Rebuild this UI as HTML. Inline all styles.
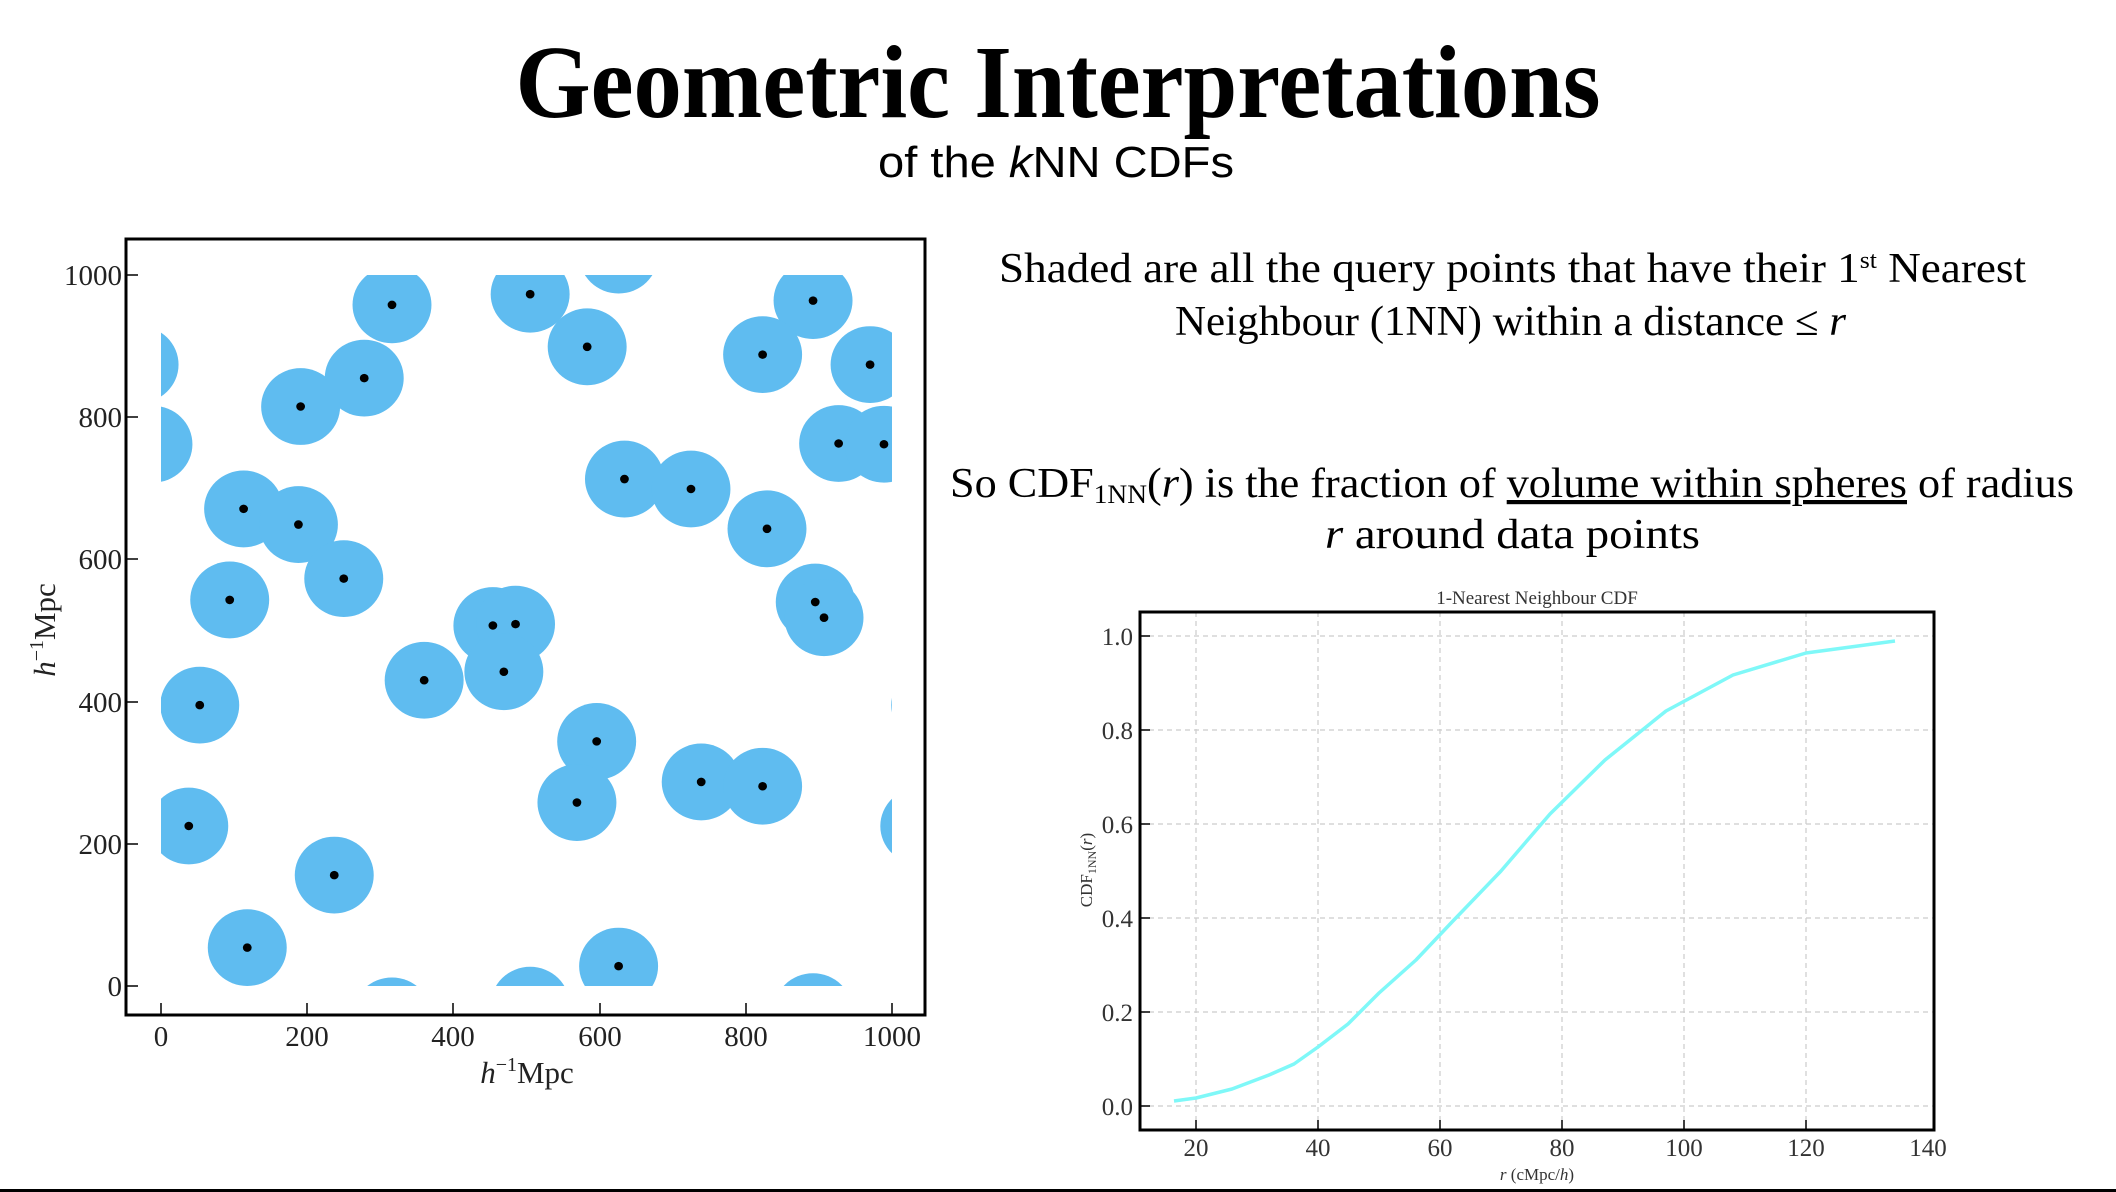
<!DOCTYPE html>
<html><head><meta charset="utf-8"><style>html,body{margin:0;padding:0;background:#fff;width:2116px;height:1192px;overflow:hidden}svg{display:block}</style></head>
<body>
<svg width="2116" height="1192" viewBox="0 0 2116 1192" xmlns="http://www.w3.org/2000/svg">
<rect width="2116" height="1192" fill="#fff"/>
<text x="1058" y="117" text-anchor="middle" font-family="Liberation Serif, serif" font-weight="bold" font-size="104" textLength="1085" lengthAdjust="spacingAndGlyphs">Geometric Interpretations</text>
<text x="1056" y="177" text-anchor="middle" font-family="Liberation Sans, sans-serif" font-size="44" textLength="356" lengthAdjust="spacingAndGlyphs">of the <tspan font-style="italic">k</tspan>NN CDFs</text>

<g font-family="Liberation Serif, serif" font-size="42" fill="#000">
<text x="999" y="282" textLength="1027" lengthAdjust="spacingAndGlyphs">Shaded are all the query points that have their 1<tspan font-size="24" dy="-14">st</tspan><tspan dy="14"> Nearest</tspan></text>
<text x="1175" y="335" textLength="671" lengthAdjust="spacingAndGlyphs">Neighbour (1NN) within a distance ≤ <tspan font-style="italic">r</tspan></text>
<text x="950" y="497" textLength="1124" lengthAdjust="spacingAndGlyphs">So CDF<tspan font-size="26" dy="6">1NN</tspan><tspan dy="-6">(</tspan><tspan font-style="italic">r</tspan>) is the fraction of <tspan text-decoration="underline">volume within spheres</tspan> of radius</text>
<text x="1325" y="548" textLength="375" lengthAdjust="spacingAndGlyphs"><tspan font-style="italic">r</tspan> around data points</text>
</g>

<defs>
<clipPath id="box"><rect x="0" y="0" width="1000" height="1000"/></clipPath>
<g id="circ" fill="#5fbcf0">
<circle cx="316" cy="958" r="54"/><circle cx="505" cy="973" r="54"/><circle cx="583" cy="899" r="54"/>
<circle cx="892" cy="964" r="54"/><circle cx="823" cy="888" r="54"/><circle cx="970" cy="874" r="54"/>
<circle cx="278" cy="855" r="54"/><circle cx="191" cy="815" r="54"/><circle cx="927" cy="763" r="54"/>
<circle cx="989" cy="762" r="54"/><circle cx="634" cy="713" r="54"/><circle cx="725" cy="699" r="54"/>
<circle cx="829" cy="643" r="54"/><circle cx="113" cy="671" r="54"/><circle cx="188" cy="649" r="54"/>
<circle cx="250" cy="573" r="54"/><circle cx="94" cy="543" r="54"/><circle cx="895" cy="540" r="54"/>
<circle cx="907" cy="518" r="54"/><circle cx="454" cy="507" r="54"/><circle cx="485" cy="509" r="54"/>
<circle cx="469" cy="442" r="54"/><circle cx="360" cy="430" r="54"/><circle cx="53" cy="395" r="54"/>
<circle cx="596" cy="344" r="54"/><circle cx="569" cy="258" r="54"/><circle cx="739" cy="287" r="54"/>
<circle cx="823" cy="281" r="54"/><circle cx="38" cy="225" r="54"/><circle cx="237" cy="156" r="54"/>
<circle cx="118" cy="54" r="54"/><circle cx="626" cy="28" r="54"/>
</g>
</defs>
<g transform="translate(161,986) scale(0.731,-0.711)">
<g clip-path="url(#box)">
<use href="#circ"/>
<use href="#circ" transform="translate(1000,0)"/><use href="#circ" transform="translate(-1000,0)"/>
<use href="#circ" transform="translate(0,1000)"/><use href="#circ" transform="translate(0,-1000)"/>
<use href="#circ" transform="translate(1000,1000)"/><use href="#circ" transform="translate(-1000,1000)"/>
<use href="#circ" transform="translate(1000,-1000)"/><use href="#circ" transform="translate(-1000,-1000)"/>
</g>
<g fill="#000">
<circle cx="316" cy="958" r="6"/><circle cx="505" cy="973" r="6"/><circle cx="583" cy="899" r="6"/>
<circle cx="892" cy="964" r="6"/><circle cx="823" cy="888" r="6"/><circle cx="970" cy="874" r="6"/>
<circle cx="278" cy="855" r="6"/><circle cx="191" cy="815" r="6"/><circle cx="927" cy="763" r="6"/>
<circle cx="989" cy="762" r="6"/><circle cx="634" cy="713" r="6"/><circle cx="725" cy="699" r="6"/>
<circle cx="829" cy="643" r="6"/><circle cx="113" cy="671" r="6"/><circle cx="188" cy="649" r="6"/>
<circle cx="250" cy="573" r="6"/><circle cx="94" cy="543" r="6"/><circle cx="895" cy="540" r="6"/>
<circle cx="907" cy="518" r="6"/><circle cx="454" cy="507" r="6"/><circle cx="485" cy="509" r="6"/>
<circle cx="469" cy="442" r="6"/><circle cx="360" cy="430" r="6"/><circle cx="53" cy="395" r="6"/>
<circle cx="596" cy="344" r="6"/><circle cx="569" cy="258" r="6"/><circle cx="739" cy="287" r="6"/>
<circle cx="823" cy="281" r="6"/><circle cx="38" cy="225" r="6"/><circle cx="237" cy="156" r="6"/>
<circle cx="118" cy="54" r="6"/><circle cx="626" cy="28" r="6"/>
</g>
</g>
<rect x="126" y="239" width="799" height="776" fill="none" stroke="#000" stroke-width="3"/>
<g stroke="#000" stroke-width="1.5">
<line x1="161" y1="1015" x2="161" y2="1003"/><line x1="307" y1="1015" x2="307" y2="1003"/><line x1="453" y1="1015" x2="453" y2="1003"/><line x1="600" y1="1015" x2="600" y2="1003"/><line x1="746" y1="1015" x2="746" y2="1003"/><line x1="892" y1="1015" x2="892" y2="1003"/>
<line x1="126" y1="986" x2="138" y2="986"/><line x1="126" y1="844" x2="138" y2="844"/><line x1="126" y1="702" x2="138" y2="702"/><line x1="126" y1="559" x2="138" y2="559"/><line x1="126" y1="417" x2="138" y2="417"/><line x1="126" y1="275" x2="138" y2="275"/>
</g>
<g font-family="Liberation Serif, serif" font-size="29" fill="#222">
<g text-anchor="middle">
<text x="161" y="1046">0</text><text x="307" y="1046">200</text><text x="453" y="1046">400</text><text x="600" y="1046">600</text><text x="746" y="1046">800</text><text x="892" y="1046">1000</text>
</g>
<g text-anchor="end">
<text x="122" y="996">0</text><text x="122" y="854">200</text><text x="122" y="712">400</text><text x="122" y="569">600</text><text x="122" y="427">800</text><text x="122" y="285">1000</text>
</g>
<text x="527" y="1083" text-anchor="middle" font-size="31"><tspan font-style="italic">h</tspan><tspan font-size="20" dy="-12">−1</tspan><tspan dy="12">Mpc</tspan></text>
<text transform="translate(55,630) rotate(-90)" text-anchor="middle" font-size="31"><tspan font-style="italic">h</tspan><tspan font-size="20" dy="-12">−1</tspan><tspan dy="12">Mpc</tspan></text>
</g>

<g stroke="#ccc" stroke-width="1.2" stroke-dasharray="5,4">
<line x1="1196" y1="612" x2="1196" y2="1130"/><line x1="1318" y1="612" x2="1318" y2="1130"/><line x1="1440" y1="612" x2="1440" y2="1130"/><line x1="1562" y1="612" x2="1562" y2="1130"/><line x1="1684" y1="612" x2="1684" y2="1130"/><line x1="1806" y1="612" x2="1806" y2="1130"/>
<line x1="1140" y1="1106" x2="1934" y2="1106"/><line x1="1140" y1="1012" x2="1934" y2="1012"/><line x1="1140" y1="918" x2="1934" y2="918"/><line x1="1140" y1="824" x2="1934" y2="824"/><line x1="1140" y1="730" x2="1934" y2="730"/><line x1="1140" y1="636" x2="1934" y2="636"/>
</g>
<polyline fill="none" stroke="#7ff8f8" stroke-width="3.5" stroke-linejoin="round"
points="1174,1101 1196,1098 1232,1089 1269,1075 1294,1064 1318,1047 1348,1024 1379,993 1416,960 1452,922 1501,871 1550,814 1605,760 1666,711 1733,675 1806,653 1895,641"/>
<rect x="1140" y="612" width="794" height="518" fill="none" stroke="#000" stroke-width="3"/>
<g stroke="#000" stroke-width="1.5">
<line x1="1196" y1="1130" x2="1196" y2="1120"/><line x1="1318" y1="1130" x2="1318" y2="1120"/><line x1="1440" y1="1130" x2="1440" y2="1120"/><line x1="1562" y1="1130" x2="1562" y2="1120"/><line x1="1684" y1="1130" x2="1684" y2="1120"/><line x1="1806" y1="1130" x2="1806" y2="1120"/>
<line x1="1140" y1="1106" x2="1150" y2="1106"/><line x1="1140" y1="1012" x2="1150" y2="1012"/><line x1="1140" y1="918" x2="1150" y2="918"/><line x1="1140" y1="824" x2="1150" y2="824"/><line x1="1140" y1="730" x2="1150" y2="730"/><line x1="1140" y1="636" x2="1150" y2="636"/>
</g>
<g font-family="Liberation Serif, serif" font-size="25" fill="#333">
<g text-anchor="middle">
<text x="1196" y="1156">20</text><text x="1318" y="1156">40</text><text x="1440" y="1156">60</text><text x="1562" y="1156">80</text><text x="1684" y="1156">100</text><text x="1806" y="1156">120</text><text x="1928" y="1156">140</text>
</g>
<g text-anchor="end">
<text x="1133" y="1115">0.0</text><text x="1133" y="1021">0.2</text><text x="1133" y="927">0.4</text><text x="1133" y="833">0.6</text><text x="1133" y="739">0.8</text><text x="1133" y="645">1.0</text>
</g>
<text x="1537" y="604" text-anchor="middle" font-size="19">1-Nearest Neighbour CDF</text>
<text x="1537" y="1180" text-anchor="middle" font-size="17"><tspan font-style="italic">r</tspan> (cMpc/<tspan font-style="italic">h</tspan>)</text>
<text transform="translate(1092,870) rotate(-90)" text-anchor="middle" font-size="17">CDF<tspan font-size="12" dy="4">1NN</tspan><tspan dy="-4">(</tspan><tspan font-style="italic">r</tspan>)</text>
</g>
<rect x="0" y="1189" width="2116" height="3" fill="#000"/>
</svg>
</body></html>
